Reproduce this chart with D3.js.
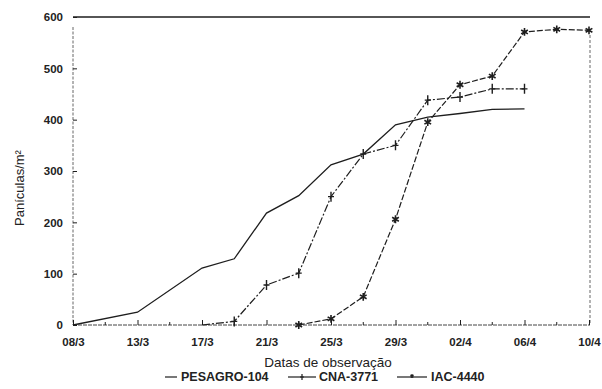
<!DOCTYPE html>
<html>
<head>
<meta charset="utf-8">
<script src="https://cdnjs.cloudflare.com/ajax/libs/d3/7.8.5/d3.min.js"></script>
<style>
  body { margin: 0; background: #fff; }
  svg { display: block; font-family: "Liberation Sans", Arial, sans-serif; }
</style>
</head>
<body>
<svg id="chart" width="602" height="389"></svg>
<script>
// x positions are days counted from the first tick, ticks every 4 days
var tickDays = [0, 4, 8, 12, 16, 20, 24, 28, 32]
var tickLabels = ["08/3", "13/3", "17/3", "21/3", "25/3", "29/3", "02/4", "06/4", "10/4"]
var yTicks = [0, 100, 200, 300, 400, 500, 600]

var pesagroDays = [0, 4, 8, 10, 12, 14, 16, 18, 20, 22, 24, 26, 28]
var pesagroVals = [0, 25, 111, 129, 218, 252, 312, 333, 390, 405, 412, 420, 421]

var cnaDays = [8, 10, 12, 14, 16, 18, 20, 22, 24, 26, 28]
var cnaVals = [0, 7, 78, 101, 250, 333, 350, 438, 444, 460, 460]

var iacDays = [14, 16, 18, 20, 22, 24, 26, 28, 30, 32]
var iacVals = [0, 12, 55, 206, 395, 468, 485, 571, 576, 574]

var seriesNames = ["PESAGRO-104", "CNA-3771", "IAC-4440"]

var svg = d3.select("#chart")
var ink = "#1e1e1e"

var x = d3.scaleLinear().domain([0, 32]).range([73, 589])
var y = d3.scaleLinear().domain([0, 600]).range([325, 17])

// frame: solid top, dotted-looking sides
svg.append("line")
    .attr("x1", x(0)).attr("x2", x(32) + 1)
    .attr("y1", y(600)).attr("y2", y(600))
    .attr("stroke", ink).attr("stroke-width", 1.6)
svg.append("line")
    .attr("x1", x(0)).attr("x2", x(0))
    .attr("y1", y(600) + 10).attr("y2", y(0))
    .attr("stroke", "#555").attr("stroke-width", 0.9).attr("stroke-dasharray", "3,1.5")
svg.append("line")
    .attr("x1", x(32) + 1).attr("x2", x(32) + 1)
    .attr("y1", y(600) + 18).attr("y2", y(0))
    .attr("stroke", "#555").attr("stroke-width", 0.9).attr("stroke-dasharray", "3,2")
svg.append("line")
    .attr("x1", x(0)).attr("x2", x(32) + 1)
    .attr("y1", y(0)).attr("y2", y(0))
    .attr("stroke", "#444").attr("stroke-width", 1).attr("stroke-dasharray", "4,1")

// y axis (ticks pointing inward)
var yAxis = d3.axisLeft(y).tickValues(yTicks).tickSizeInner(-4).tickSizeOuter(0).tickPadding(10)
var gy = svg.append("g").attr("transform", "translate(" + x(0) + ",0)").call(yAxis)
gy.select(".domain").remove()
gy.selectAll("line").attr("stroke", ink)
gy.selectAll("text")
    .style("font-size", "11.5px").style("font-weight", "bold").attr("fill", "#222")

// x axis: majors every 4 days, minors every 2
var xAxis = d3.axisBottom(x).tickValues(tickDays)
    .tickFormat(function (d, i) { return tickLabels[i] })
    .tickSizeInner(-5).tickSizeOuter(0).tickPadding(13)
var gx = svg.append("g").attr("transform", "translate(0," + y(0) + ")").call(xAxis)
gx.select(".domain").remove()
gx.selectAll("line").attr("stroke", ink)
gx.selectAll("text")
    .style("font-size", "11.5px").style("font-weight", "bold").attr("fill", "#222")
svg.append("g").selectAll("line")
    .data(d3.range(2, 32, 4))
    .enter().append("line")
    .attr("x1", function (d) { return x(d) }).attr("x2", function (d) { return x(d) })
    .attr("y1", y(0)).attr("y2", y(0) - 3)
    .attr("stroke", ink)

// axis titles
svg.append("text")
    .attr("transform", "translate(24,188) rotate(-90)")
    .attr("text-anchor", "middle")
    .style("font-size", "13px").attr("fill", "#222")
    .text("Panículas/m²")
svg.append("text")
    .attr("x", 328).attr("y", 367)
    .attr("text-anchor", "middle")
    .style("font-size", "13.5px").attr("fill", "#222")
    .text("Datas de observação")

var line = d3.line()
    .x(function (d) { return x(d[0]) })
    .y(function (d) { return y(d[1]) })

function pairs(days, vals) {
    return days.map(function (d, i) { return [d, vals[i]] })
}

// PESAGRO-104: plain line
svg.append("path")
    .datum(pairs(pesagroDays, pesagroVals))
    .attr("d", line)
    .attr("fill", "none").attr("stroke", ink).attr("stroke-width", 1.3)

// CNA-3771: dash-dot with + markers
var cna = pairs(cnaDays, cnaVals)
svg.append("path")
    .datum(cna)
    .attr("d", line)
    .attr("fill", "none").attr("stroke", ink).attr("stroke-width", 1.2)
    .attr("stroke-dasharray", "8,2,2,2")
var plus = d3.symbol(d3.symbolCross, 0)
svg.append("g").selectAll("path")
    .data(cna.slice(1))
    .enter().append("path")
    .attr("d", "M0,-5V5M-3,0H3")
    .attr("transform", function (d) { return "translate(" + x(d[0]) + "," + y(d[1]) + ")" })
    .attr("stroke", ink).attr("stroke-width", 1.4).attr("fill", "none")

// IAC-4440: dashed with star markers
var iac = pairs(iacDays, iacVals)
svg.append("path")
    .datum(iac)
    .attr("d", line)
    .attr("fill", "none").attr("stroke", ink).attr("stroke-width", 1.2)
    .attr("stroke-dasharray", "6,2")
var star = d3.symbol(d3.symbolAsterisk, 42)
svg.append("g").selectAll("path")
    .data(iac)
    .enter().append("path")
    .attr("d", star)
    .attr("transform", function (d) { return "translate(" + x(d[0]) + "," + y(d[1]) + ")" })
    .attr("stroke", ink).attr("stroke-width", 1.6).attr("fill", "none")

// legend row
var legend = svg.append("g").attr("transform", "translate(0,381)")
var items = [
    { x0: 165, x1: 177, tx: 181, mark: null },
    { x0: 288, x1: 316, tx: 319, mark: "plus" },
    { x0: 397, x1: 427, tx: 431, mark: "star" }
]
items.forEach(function (it, i) {
    legend.append("line")
        .attr("x1", it.x0).attr("x2", it.x1).attr("y1", -4).attr("y2", -4)
        .attr("stroke", ink).attr("stroke-width", 1.2)
    if (it.mark === "plus") {
        legend.append("path")
            .attr("d", "M0,-3V3M-2,0H2")
            .attr("transform", "translate(" + ((it.x0 + it.x1) / 2) + ",-4)")
            .attr("stroke", ink).attr("stroke-width", 1.2)
    } else if (it.mark === "star") {
        legend.append("path")
            .attr("d", d3.symbol(d3.symbolAsterisk, 10))
            .attr("transform", "translate(" + ((it.x0 + it.x1) / 2) + ",-5)")
            .attr("stroke", ink).attr("stroke-width", 1.2)
    }
    legend.append("text")
        .attr("x", it.tx).attr("y", 0)
        .style("font-size", "12.5px").style("font-weight", "bold").attr("fill", "#222")
        .text(seriesNames[i])
})
</script>
</body>
</html>
